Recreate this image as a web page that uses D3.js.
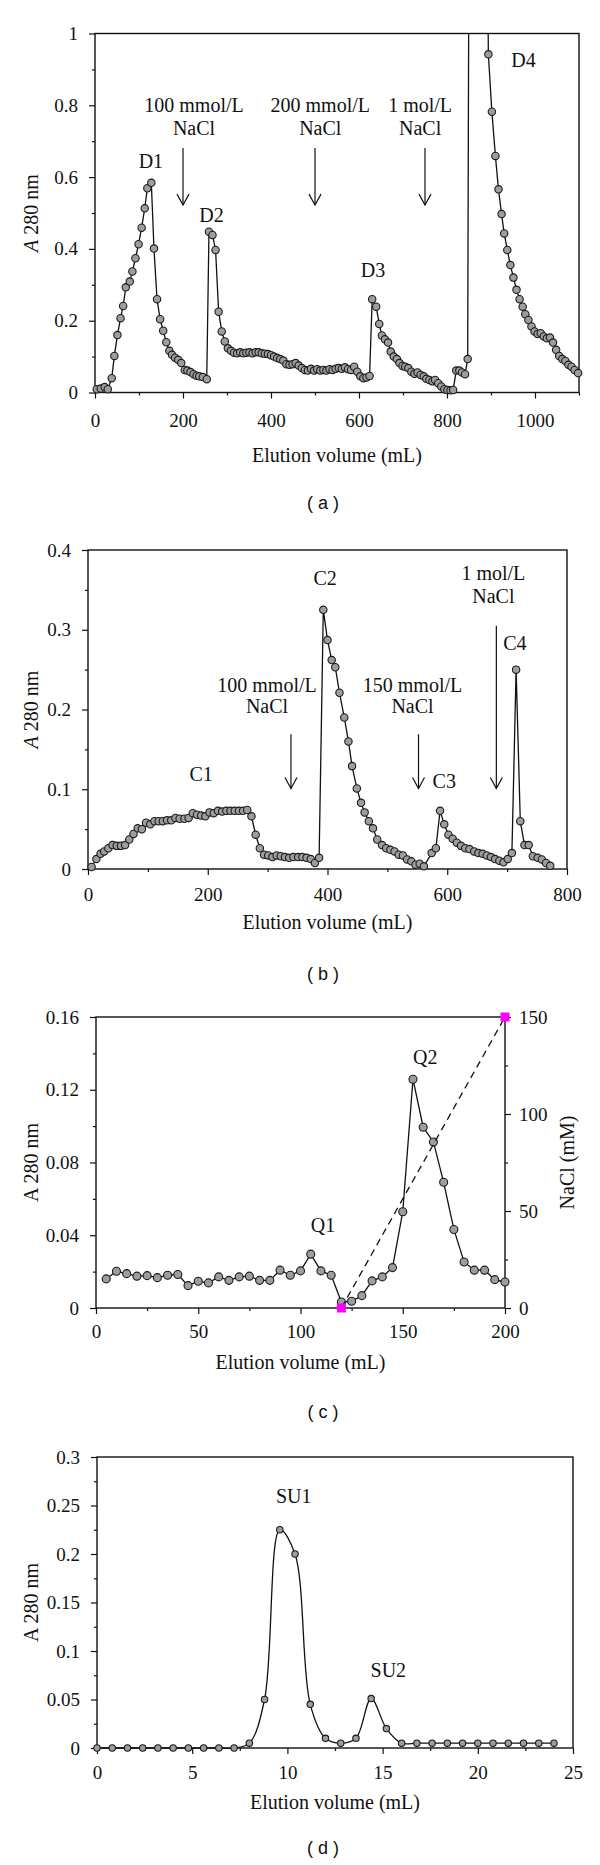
<!DOCTYPE html>
<html><head><meta charset="utf-8">
<script src="https://cdn.jsdelivr.net/npm/d3@7/dist/d3.min.js"></script>
<style>
html,body{margin:0;padding:0;background:#fff;}
svg{display:block;}
text{font-family:"Liberation Serif","Times New Roman",serif;fill:#111;}
.plabel{font-family:"Liberation Sans",Arial,sans-serif;}
</style></head>
<body>
<script>
// ---------- Panel (a) ----------
const aX = [4,13,22,29,38,44,51,58,64,70,79,85,92,99,106,113,119,128,134,141,148,155,162,169,175,182,189,196,204,210,217,224,231,237,245,254,
  259,267,274,281,288,295,302,
  309,316,323,330,337,344,351,358,365,372,379,386,393,400,407,414,421,428,435,442,449,456,463,470,477,484,491,498,505,512,519,526,533,540,547,554,561,568,575,582,589,596,603,610,617,624,
  630,639,646,652,659,666,672,679,686,692,699,705,712,719,726,733,740,747,753,760,767,773,780,787,794,801,808,814,821,828,834,841,847,
  854,861,868,875,882,888,
  894,902,910,917,924,930,937,944,951,958,965,972,978,985,992,999,1006,1013,1020,1027,1034,1041,1048,1055,1062,1069,1076,1083,1090,1098];
const aY = [0.009,0.011,0.015,0.009,0.04,0.102,0.16,0.207,0.241,0.293,0.309,0.337,0.374,0.413,0.459,0.513,0.569,0.584,0.401,0.26,0.204,0.172,0.14,0.116,0.105,0.097,0.091,0.082,0.063,0.061,0.057,0.051,0.047,0.045,0.043,0.037,
  0.448,0.439,0.397,0.225,0.17,0.142,0.123,
  0.116,0.111,0.109,0.112,0.109,0.111,0.112,0.109,0.112,0.112,0.109,0.108,0.107,0.104,0.1,0.096,0.093,0.089,0.079,0.077,0.079,0.082,0.075,0.068,0.063,0.061,0.066,0.061,0.065,0.061,0.063,0.061,0.065,0.063,0.066,0.068,0.066,0.07,0.065,0.063,0.072,0.058,0.045,0.04,0.042,0.046,
  0.26,0.239,0.191,0.159,0.148,0.139,0.114,0.1,0.093,0.082,0.074,0.072,0.068,0.058,0.052,0.056,0.049,0.045,0.038,0.035,0.031,0.035,0.026,0.017,0.009,0.007,0.006,0.007,0.061,0.061,0.056,0.051,0.093,
  3.0,3.4,3.1,2.6,2.1,1.8,
  0.942,0.782,0.659,0.566,0.497,0.443,0.397,0.355,0.32,0.286,0.26,0.239,0.218,0.202,0.184,0.17,0.163,0.165,0.156,0.151,0.153,0.139,0.119,0.102,0.093,0.088,0.077,0.072,0.063,0.054];
const aXTicks = [0,200,400,600,800,1000];
const aXMinor = [100,300,500,700,900,1100];
const aYTicks = [0,0.2,0.4,0.6,0.8,1];
const aYMinor = [0.1,0.3,0.5,0.7,0.9];
const aPeaks = [{t:"D1",x:127,y:0.625},{t:"D2",x:265,y:0.476},{t:"D3",x:632,y:0.323},{t:"D4",x:974,y:0.907}];
const aSalt = [{l1:"100 mmol/L",l2:"NaCl",tx:225,ax:200,y1:0.781,y2:0.717,top:0.681},
               {l1:"200 mmol/L",l2:"NaCl",tx:512,ax:500,y1:0.781,y2:0.717,top:0.681},
               {l1:"1 mol/L",l2:"NaCl",tx:739,ax:750,y1:0.781,y2:0.717,top:0.681}];
const aArrowBottom = 0.522;

// ---------- Panel (b) ----------
const bX = [6,14,21,27,34,41,48,55,62,69,76,83,90,97,104,111,118,125,132,139,146,153,161,168,175,182,189,196,203,210,217,224,231,238,245,252,259,266,273,280,287,294,301,308,315,322,329,336,343,351,358,365,372,379,386,
  393,400,407,413,420,428,435,441,449,456,462,469,476,483,491,498,505,512,519,526,533,540,547,554,561,
  574,581,588,595,602,609,616,623,630,637,645,652,659,666,673,680,687,694,701,708,715,722,729,736,743,751,758,765,772];
const bY = [0.0025,0.0125,0.019,0.022,0.026,0.030,0.029,0.029,0.030,0.037,0.044,0.051,0.05,0.058,0.056,0.06,0.06,0.06,0.061,0.061,0.064,0.063,0.063,0.064,0.07,0.068,0.067,0.066,0.071,0.07,0.073,0.072,0.073,0.073,0.073,0.073,0.073,0.074,0.066,0.043,0.026,0.018,0.017,0.015,0.017,0.016,0.015,0.014,0.015,0.015,0.015,0.014,0.0125,0.0075,0.014,
  0.325,0.287,0.262,0.253,0.221,0.19,0.16,0.129,0.101,0.083,0.071,0.06,0.051,0.037,0.03,0.026,0.024,0.022,0.018,0.017,0.012,0.0096,0.0054,0.0067,0.0033,
  0.02,0.026,0.073,0.056,0.043,0.038,0.033,0.029,0.026,0.025,0.022,0.02,0.019,0.017,0.015,0.0125,0.0104,0.0084,0.0125,0.02,0.25,0.06,0.03,0.03,0.016,0.014,0.012,0.0075,0.004];
const bXTicks = [0,200,400,600,800];
const bXMinor = [100,300,500,700];
const bYTicks = [0,0.1,0.2,0.3,0.4];
const bYMinor = [0.05,0.15,0.25,0.35];
const bPeaks = [{t:"C1",x:189,y:0.110},{t:"C2",x:396,y:0.356},{t:"C3",x:595,y:0.101},{t:"C4",x:713,y:0.275}];
const bSalt = [{l1:"100 mmol/L",l2:"NaCl",tx:299,ax:339,y1:0.222,y2:0.195,top:0.169},
               {l1:"150 mmol/L",l2:"NaCl",tx:542,ax:552,y1:0.222,y2:0.195,top:0.169},
               {l1:"1 mol/L",l2:"NaCl",tx:677,ax:682,y1:0.362,y2:0.333,top:0.305}];
const bArrowBottom = 0.101;

// ---------- Panel (c) ----------
const cX = [5,10,15,20,25,30,35,40,45,50,55,60,65,70,75,80,85,90,95,100,105,110,115,120,125,130,135,140,145,150,155,160,165,170,175,180,185,190,195,200];
const cY = [0.016,0.0202,0.0189,0.0175,0.0178,0.0167,0.018,0.0184,0.0123,0.0147,0.0138,0.0171,0.0152,0.0171,0.0175,0.0152,0.0152,0.0208,0.018,0.0204,0.0296,0.0204,0.018,0.0033,0.0037,0.0068,0.0149,0.0171,0.0222,0.0529,0.1258,0.0994,0.0913,0.0691,0.0432,0.0253,0.0208,0.0208,0.0156,0.0143];
const cSaltX = [120,200];
const cSaltY = [0,150];
const cXTicks = [0,50,100,150,200];
const cXMinor = [25,75,125,175];
const cYTicks = [0,0.04,0.08,0.12,0.16];
const cYMinor = [0.02,0.06,0.1,0.14];
const cY2Ticks = [0,50,100,150];
const cY2Minor = [25,75,125];
const cPeaks = [{t:"Q1",x:111,y:0.0418},{t:"Q2",x:161,y:0.134}];

// ---------- Panel (d) ----------
const dX = [0,0.8,1.6,2.4,3.2,4.0,4.8,5.6,6.4,7.2,8.0,8.8,9.6,10.4,11.2,12.0,12.8,13.6,14.4,15.2,16.0,16.8,17.6,18.4,19.2,20.0,20.8,21.6,22.4,23.2,24.0];
const dY = [0,0,0,0,0,0,0,0,0,0,0.005,0.05,0.225,0.2,0.045,0.01,0.005,0.01,0.051,0.02,0.005,0.005,0.005,0.005,0.005,0.005,0.005,0.005,0.005,0.005,0.005];
const dXTicks = [0,5,10,15,20,25];
const dXMinor = [2.5,7.5,12.5,17.5,22.5];
const dYTicks = [0,0.05,0.1,0.15,0.2,0.25,0.3];
const dYMinor = [0.025,0.075,0.125,0.175,0.225,0.275];
const dPeaks = [{t:"SU1",x:10.33,y:0.2527},{t:"SU2",x:15.3,y:0.0727}];

const W = 600, H = 1865;
const svg = d3.select("body").append("svg").attr("width", W).attr("height", H);
const fmt = d3.format("~g");
const SERIF = '"Liberation Serif","Times New Roman",serif';

function styleAxis(sel) {
  sel.attr("font-family", SERIF).attr("font-size", 19);
  sel.select(".domain").remove();
  sel.selectAll("text").style("font-size", "19px").style("font-family", SERIF).attr("fill", "#111");
  sel.selectAll("line").attr("stroke", "#111").attr("stroke-width", 1.2);
}

function panel(o) {
  const x = d3.scaleLinear().domain(o.xd).range([o.L, o.R]);
  const y = d3.scaleLinear().domain(o.yd).range([o.B, o.T]);
  const g = svg.append("g");
  const id = "clip" + o.name;
  svg.append("clipPath").attr("id", id).append("rect")
    .attr("x", o.L - 6).attr("y", o.T).attr("width", o.R - o.L + 12).attr("height", o.B - o.T + 6);

  function ax(axisFn, scale, major, minor, pad, tr) {
    g.append("g").attr("transform", tr)
      .call(axisFn(scale).tickValues(major).tickSize(6).tickPadding(pad).tickFormat(fmt)).call(styleAxis);
    g.append("g").attr("transform", tr)
      .call(axisFn(scale).tickValues(minor).tickSize(3).tickFormat("")).call(styleAxis);
  }
  ax(d3.axisBottom, x, o.xt, o.xm, o.xpad, `translate(0,${o.B})`);
  ax(d3.axisLeft, y, o.yt, o.ym, 11, `translate(${o.L},0)`);

  g.append("rect").attr("x", o.L).attr("y", o.T).attr("width", o.R - o.L).attr("height", o.B - o.T)
    .attr("fill", "none").attr("stroke", "#111").attr("stroke-width", 1.4);

  const pts = o.X.map((v, i) => [v, o.Y[i]]);
  const line = d3.line().x(d => x(d[0])).y(d => y(d[1]));
  if (o.curve) line.curve(o.curve);
  const pg = g.append("g").attr("clip-path", `url(#${id})`);
  pg.append("path").attr("d", line(pts)).attr("fill", "none").attr("stroke", "#111").attr("stroke-width", 1.3);
  pg.selectAll("circle").data(pts).join("circle")
    .attr("cx", d => x(d[0])).attr("cy", d => y(d[1])).attr("r", o.r)
    .attr("fill", "#9d9d9d").attr("stroke", "#1a1a1a").attr("stroke-width", 1.1);

  g.selectAll("text.peak").data(o.peaks).join("text").attr("class", "peak")
    .attr("x", d => x(d.x)).attr("y", d => y(d.y)).attr("text-anchor", "middle")
    .style("font-size", "20px").text(d => d.t);

  if (o.salt) {
    o.salt.forEach(s => {
      g.append("text").attr("x", x(s.tx)).attr("y", y(s.y1)).attr("text-anchor", "middle").style("font-size", "20px").text(s.l1);
      g.append("text").attr("x", x(s.tx)).attr("y", y(s.y2)).attr("text-anchor", "middle").style("font-size", "20px").text(s.l2);
      const xa = x(s.ax), y0 = y(s.top), y1 = y(o.abot);
      g.append("line").attr("x1", xa).attr("x2", xa).attr("y1", y0).attr("y2", y1).attr("stroke", "#111").attr("stroke-width", 1.2);
      g.append("path").attr("d", `M${xa - 6},${y1 - 11}L${xa},${y1}L${xa + 6},${y1 - 11}`)
        .attr("fill", "none").attr("stroke", "#111").attr("stroke-width", 1.2);
    });
  }

  g.append("text").attr("x", (o.L + o.R) / 2).attr("y", o.xTitleY).attr("dy", "0.35em").attr("text-anchor", "middle")
    .style("font-size", "20px").text("Elution volume (mL)");
  const yt = g.append("text").attr("transform", `translate(31,${(o.T + o.B) / 2}) rotate(-90)`)
    .attr("dy", "0.35em").attr("text-anchor", "middle").style("font-size", "20px");
  if (o.italicA) { yt.append("tspan").style("font-style", "italic").text("A"); yt.append("tspan").text(" 280 nm"); }
  else yt.text("A 280 nm");

  g.append("text").attr("class", "plabel").attr("x", 323).attr("y", o.labY).attr("dy", "0.35em")
    .attr("text-anchor", "middle").style("font-size", "18px").text(o.lab);
  return {x, y, g};
}

panel({name:"a", L:95, R:579, T:33.5, B:392.5, xd:[0,1100], yd:[0,1], X:aX, Y:aY, r:3.7,
  xt:aXTicks, xm:aXMinor, yt:aYTicks, ym:aYMinor, xpad:15, peaks:aPeaks, salt:aSalt, abot:aArrowBottom,
  xTitleY:455, labY:503, lab:"( a )", italicA:true});

panel({name:"b", L:88, R:567, T:550, B:869, xd:[0,800], yd:[0,0.4], X:bX, Y:bY, r:3.7,
  xt:bXTicks, xm:bXMinor, yt:bYTicks, ym:bYMinor, xpad:13, peaks:bPeaks, salt:bSalt, abot:bArrowBottom,
  xTitleY:922, labY:974, lab:"( b )", italicA:true});

const pc = panel({name:"c", L:96, R:505, T:1017, B:1308, xd:[0,200], yd:[0,0.16], X:cX, Y:cY, r:4,
  xt:cXTicks, xm:cXMinor, yt:cYTicks, ym:cYMinor, xpad:11, peaks:cPeaks,
  xTitleY:1362, labY:1412, lab:"( c )", italicA:false});
{
  const y2 = d3.scaleLinear().domain([0,150]).range([1308,1017]);
  pc.g.append("g").attr("transform", "translate(505,0)")
    .call(d3.axisRight(y2).tickValues(cY2Ticks).tickSize(6).tickPadding(8).tickFormat(fmt)).call(styleAxis);
  pc.g.append("g").attr("transform", "translate(505,0)")
    .call(d3.axisRight(y2).tickValues(cY2Minor).tickSize(3).tickFormat("")).call(styleAxis);
  const sp = cSaltX.map((v, i) => [v, cSaltY[i]]);
  pc.g.append("path").attr("d", d3.line().x(d => pc.x(d[0])).y(d => y2(d[1]))(sp))
    .attr("fill", "none").attr("stroke", "#111").attr("stroke-width", 1.3).attr("stroke-dasharray", "7,5");
  pc.g.selectAll("rect.sq").data(sp).join("rect").attr("class", "sq")
    .attr("x", d => pc.x(d[0]) - 4.5).attr("y", d => y2(d[1]) - 4.5).attr("width", 9).attr("height", 9).attr("fill", "#ff00ff");
  pc.g.append("text").attr("transform", `translate(567,${(1017 + 1308) / 2}) rotate(-90)`)
    .attr("dy", "0.35em").attr("text-anchor", "middle").style("font-size", "20px").text("NaCl (mM)");
}

panel({name:"d", L:97, R:573, T:1457, B:1748, xd:[0,25], yd:[0,0.3], X:dX, Y:dY, r:3.2,
  xt:dXTicks, xm:dXMinor, yt:dYTicks, ym:dYMinor, xpad:12, peaks:dPeaks, curve:d3.curveCatmullRom.alpha(0.5),
  xTitleY:1802, labY:1848, lab:"( d )", italicA:false});
</script>
</body></html>
